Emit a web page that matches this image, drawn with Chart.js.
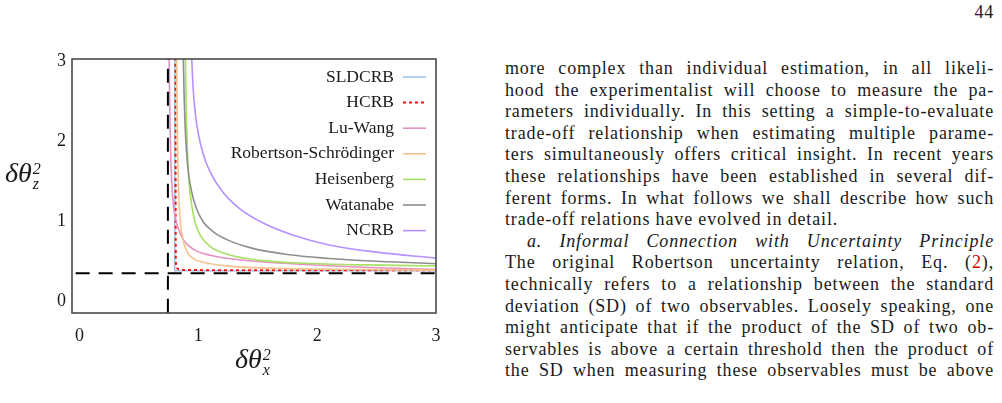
<!DOCTYPE html>
<html lang="en">
<head>
<meta charset="UTF-8">
<title>Trade-off bounds</title>
<script src="https://cdn.jsdelivr.net/npm/chart.js@4.4.1/dist/chart.umd.min.js"></script>
<style>
    html, body { margin: 0; padding: 0; background: #fff; }
    #page { position: relative; width: 1002px; height: 403px; overflow: hidden; font-family: "Liberation Serif", serif; color: #1a1a1a; }
    #chart { position: absolute; left: 0; top: 0; }
    .pno { position: absolute; right: 8px; top: 2px; font-size: 18px; letter-spacing: 0.8px; }
    .math { position: absolute; font-style: italic; font-size: 28px; white-space: nowrap; }
    .ss { display: inline-block; vertical-align: middle; font-size: 16px; line-height: 15px; margin-left: 1px; }
    .ss span { display: block; }
    .ylab { left: 5px; top: 157px; }
    .xlab { left: 235px; top: 343px; }
    #col { position: absolute; left: 505px; top: 0; width: 489px; font-size: 18px; }
    .ln { position: absolute; left: 0; width: 489px; height: 22px; line-height: 22px; white-space: nowrap; letter-spacing: 0.85px; }
    .ref { color: #e00000; }
    .it { font-style: italic; }
</style>
<script>
    // axis ticks
    var xTicks = [0, 1, 2, 3];
    var yTicks = [0, 1, 2, 3];

    // dashed bound lines
    var boundX = 0.744;
    var boundY = 0.355;

    var names = ['SLDCRB', 'HCRB', 'Lu-Wang', 'Robertson-Schrödinger', 'Heisenberg', 'Watanabe', 'NCRB'];

    var sldX = [0.802, 0.802, 3.0];
    var sldY = [3.2, 0.388, 0.388];

    var hcrbX = [0.808, 0.809, 0.810, 0.812, 0.818, 0.835, 0.87, 1.0, 2.0, 3.0];
    var hcrbY = [3.2, 1.2, 0.6, 0.47, 0.43, 0.405, 0.398, 0.395, 0.394, 0.393];

    var luX = [0.754, 0.757, 0.762, 0.769, 0.782, 0.80, 0.83, 0.88, 0.96, 1.1, 1.4, 1.9, 2.4, 3.0];
    var luY = [3.2, 2.7, 2.2, 1.75, 1.35, 1.1, 0.92, 0.76, 0.655, 0.58, 0.515, 0.465, 0.43, 0.405];

    var rsX = [0.818, 0.821, 0.826, 0.835, 0.85, 0.875, 0.91, 0.97, 1.05, 1.25, 1.6, 2.2, 3.0];
    var rsY = [3.2, 2.5, 1.9, 1.35, 0.98, 0.75, 0.61, 0.53, 0.49, 0.445, 0.42, 0.405, 0.395];

    var heisX = [0.89, 0.897, 0.907, 0.922, 0.945, 0.975, 1.02, 1.1, 1.25, 1.5, 1.9, 2.4, 3.0];
    var heisY = [3.2, 2.5, 1.95, 1.5, 1.2, 0.98, 0.82, 0.69, 0.59, 0.52, 0.48, 0.46, 0.447];

    var watX = [0.872, 0.88, 0.892, 0.91, 0.94, 0.98, 1.04, 1.13, 1.25, 1.45, 1.75, 2.2, 2.6, 3.0];
    var watY = [3.2, 2.6, 2.1, 1.7, 1.4, 1.18, 1.0, 0.87, 0.77, 0.67, 0.59, 0.53, 0.5, 0.475];

    var ncrbX = [0.94, 0.955, 0.975, 1.0, 1.04, 1.1, 1.2, 1.35, 1.55, 1.8, 2.1, 2.5, 3.0];
    var ncrbY = [3.2, 2.7, 2.35, 2.1, 1.85, 1.62, 1.38, 1.16, 0.98, 0.83, 0.71, 0.62, 0.545];

    var colors = ['#9fc4f0', '#ff1010', '#e690c4', '#f4c390', '#a6e064', '#8e8e8e', '#b590ff'];

    function pts(xs, ys) {
        var out = [];
        for (var i = 0; i < xs.length; i++) out.push({x: xs[i], y: ys[i]});
        return out;
    }

    var frame = {
        id: 'frame',
        afterDraw: function (chart) {
            var a = chart.chartArea, c = chart.ctx;
            c.save();
            c.strokeStyle = '#4a4a4a';
            c.lineWidth = 1.6;
            c.strokeRect(a.left, a.top, a.right - a.left, a.bottom - a.top);
            c.restore();
        }
    };

    // legend sits inside the plot, text right aligned with line sample after it
    var insideLegend = {
        id: 'insideLegend',
        afterDatasetsDraw: function (chart) {
            var a = chart.chartArea, c = chart.ctx;
            var lineEnd = a.right - 10, lineStart = lineEnd - 23, textRight = lineStart - 9;
            c.save();
            c.font = '17.5px "Liberation Serif"';
            c.textAlign = 'right';
            c.textBaseline = 'middle';
            var row = 0;
            chart.data.datasets.forEach(function (d) {
                if (!d.inLegend) return;
                var y = a.top + 18 + row * 25.6;
                c.fillStyle = '#1a1a1a';
                c.fillText(d.label, textRight, y);
                c.strokeStyle = d.borderColor;
                c.lineWidth = d.borderWidth;
                c.setLineDash(d.borderDash || []);
                c.beginPath();
                c.moveTo(lineStart, y);
                c.lineTo(lineEnd, y);
                c.stroke();
                row++;
            });
            c.restore();
        }
    };

    window.onload = function () {
        var series = [[sldX, sldY], [hcrbX, hcrbY], [luX, luY], [rsX, rsY], [heisX, heisY], [watX, watY], [ncrbX, ncrbY]];
        var dataSet = [];
        for (var i = 0; i < series.length; i++) {
            dataSet.push({
                label: names[i],
                data: pts(series[i][0], series[i][1]),
                borderColor: colors[i],
                borderWidth: i == 1 ? 2 : 1.6,
                borderDash: i == 1 ? [3, 3] : [],
                pointRadius: 0,
                cubicInterpolationMode: i == 0 ? 'default' : 'monotone',
                tension: 0,
                order: 10 - i,
                inLegend: true
            });
        }
        dataSet.push({
            label: 'boundX', data: [{x: boundX, y: -1}, {x: boundX, y: 4}],
            borderColor: '#000', borderWidth: 2, borderDash: [14, 9], pointRadius: 0, order: 0
        });
        dataSet.push({
            label: 'boundY', data: [{x: -1, y: boundY}, {x: 4, y: boundY}],
            borderColor: '#000', borderWidth: 2, borderDash: [14, 9], pointRadius: 0, order: 0
        });

        var tickFont = {family: 'Liberation Serif', size: 18};
        new Chart(document.getElementById('chart'), {
            type: 'scatter',
            data: {datasets: dataSet},
            options: {
                responsive: false,
                animation: false,
                showLine: true,
                layout: {padding: {top: 59, right: 44, left: 0, bottom: 0}},
                plugins: {legend: {display: false}, tooltip: {enabled: false}},
                scales: {
                    x: {
                        min: -0.063, max: 3.0,
                        grid: {display: false, drawTicks: false},
                        border: {display: false},
                        ticks: {font: tickFont, color: '#1a1a1a', padding: 12, maxRotation: 0},
                        afterBuildTicks: function (s) { s.ticks = xTicks.map(function (v) { return {value: v}; }); },
                        afterFit: function (s) { s.height = 90; }
                    },
                    y: {
                        min: -0.141, max: 3.034,
                        grid: {display: false, drawTicks: false},
                        border: {display: false},
                        ticks: {font: tickFont, color: '#1a1a1a', padding: 6},
                        afterBuildTicks: function (s) { s.ticks = yTicks.map(function (v) { return {value: v}; }); },
                        afterFit: function (s) { s.width = 72; }
                    }
                }
            },
            plugins: [frame, insideLegend]
        });

        // text column: one div per printed line, justified by word spacing
        var lines = document.querySelectorAll('.ln');
        for (var k = 0; k < lines.length; k++) {
            var ln = lines[k];
            ln.style.top = (57 + k * 21.6) + 'px';
            if (ln.classList.contains('last')) continue;
            var sp = ln.querySelector('.t');
            var gaps = (sp.textContent.match(/ /g) || []).length;
            var free = ln.clientWidth - parseFloat(getComputedStyle(ln).paddingLeft) - sp.getBoundingClientRect().width;
            if (gaps > 0) sp.style.wordSpacing = (free / gaps) + 'px';
        }
    };
</script>
</head>
<body>
<div id="page">
    <div class="pno">44</div>
    <canvas id="chart" width="480" height="403"></canvas>
    <div class="math ylab">δθ<span class="ss"><span>2</span><span>z</span></span></div>
    <div class="math xlab">δθ<span class="ss"><span>2</span><span>x</span></span></div>
    <div id="col">
        <div class="ln"><span class="t">more complex than individual estimation, in all likeli-</span></div>
        <div class="ln"><span class="t">hood the experimentalist will choose to measure the pa-</span></div>
        <div class="ln"><span class="t">rameters individually. In this setting a simple-to-evaluate</span></div>
        <div class="ln"><span class="t">trade-off relationship when estimating multiple parame-</span></div>
        <div class="ln"><span class="t">ters simultaneously offers critical insight. In recent years</span></div>
        <div class="ln"><span class="t">these relationships have been established in several dif-</span></div>
        <div class="ln"><span class="t">ferent forms. In what follows we shall describe how such</span></div>
        <div class="ln last"><span class="t">trade-off relations have evolved in detail.</span></div>
        <div class="ln it" style="padding-left:22px;width:467px"><span class="t">a. Informal Connection with Uncertainty Principle</span></div>
        <div class="ln"><span class="t">The original Robertson uncertainty relation, Eq. (<span class="ref">2</span>),</span></div>
        <div class="ln"><span class="t">technically refers to a relationship between the standard</span></div>
        <div class="ln"><span class="t">deviation (SD) of two observables. Loosely speaking, one</span></div>
        <div class="ln"><span class="t">might anticipate that if the product of the SD of two ob-</span></div>
        <div class="ln"><span class="t">servables is above a certain threshold then the product of</span></div>
        <div class="ln"><span class="t">the SD when measuring these observables must be above</span></div>
    </div>
</div>
</body>
</html>
